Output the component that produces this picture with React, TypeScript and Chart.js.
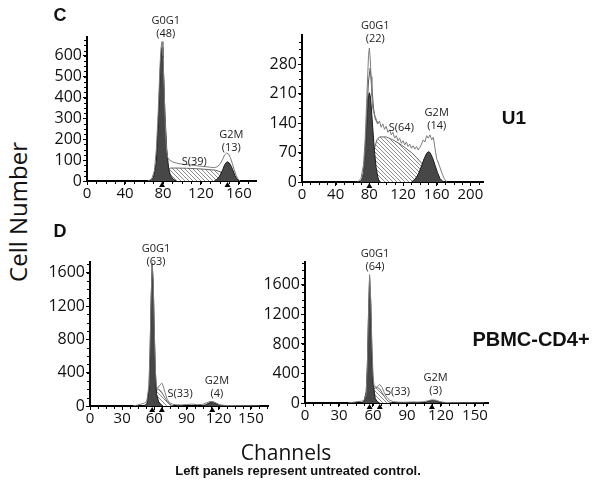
import React, { useEffect, useRef } from 'react';
import { Chart, registerables } from 'chart.js';

Chart.register(...registerables);

// ---------- Panel C, left (U1, untreated) ----------
const cLeftXTicks = [0, 40, 80, 120, 160];
const cLeftYTicks = [0, 100, 200, 300, 400, 500, 600];
const cLeftRawCh = [64, 68, 71, 73, 75, 77, 78, 79, 80, 81, 82, 83, 84, 85, 87, 90, 94, 98, 102, 106, 110, 114, 118, 122, 126, 130, 134, 137, 140, 143, 145, 147, 149, 151, 153, 155, 157, 159, 161];
const cLeftRaw = [0, 8, 50, 150, 330, 560, 640, 668, 600, 470, 330, 210, 140, 112, 100, 92, 86, 82, 80, 78, 76, 74, 72, 70, 68, 66, 64, 68, 80, 105, 125, 134, 130, 112, 85, 55, 28, 10, 0];
const cLeftG0G1Ch = [66, 70, 73, 75, 77, 78, 79, 80, 81, 82, 84, 86, 88, 91, 94];
const cLeftG0G1 = [0, 15, 90, 280, 520, 610, 640, 590, 470, 330, 150, 60, 25, 8, 0];
const cLeftSCh = [76, 80, 84, 88, 95, 105, 115, 125, 135, 140, 145, 150, 155];
const cLeftS = [0, 25, 55, 62, 62, 61, 59, 56, 52, 45, 30, 12, 0];
const cLeftG2MCh = [134, 137, 140, 143, 145, 147, 148, 150, 152, 154, 156, 158, 160];
const cLeftG2M = [0, 8, 25, 55, 78, 90, 92, 86, 70, 48, 25, 8, 0];
const cLeftMarkers = [79, 148];

// ---------- Panel C, right (U1, treated) ----------
const cRightXTicks = [0, 40, 80, 120, 160, 200];
const cRightYTicks = [0, 70, 140, 210, 280];
const cRightRawCh = [66, 70, 73, 75, 77, 79, 80, 81, 82, 83, 84, 86, 88, 90, 92, 94, 96, 98, 100, 102, 104, 106, 108, 110, 112, 114, 116, 118, 120, 122, 124, 126, 128, 130, 132, 134, 136, 138, 140, 142, 144, 146, 148, 150, 152, 154, 156, 158, 160, 163, 166, 169, 172];
const cRightRaw = [0, 8, 40, 100, 200, 300, 318, 295, 250, 205, 175, 160, 150, 138, 145, 130, 138, 125, 132, 118, 124, 112, 118, 104, 110, 98, 104, 92, 98, 88, 95, 84, 90, 80, 86, 78, 84, 76, 82, 90, 100, 95, 110, 104, 112, 100, 106, 80, 55, 40, 22, 8, 0];
const cRightFitCh = [70, 73, 75, 77, 79, 81, 83, 85, 87, 90];
const cRightFit = [0, 20, 70, 160, 240, 270, 225, 175, 150, 138];
const cRightG0G1Ch = [69, 72, 74, 76, 78, 79, 80, 81, 82, 84, 86, 88, 90, 92];
const cRightG0G1 = [0, 10, 40, 100, 175, 205, 212, 205, 185, 130, 75, 35, 12, 0];
const cRightSCh = [80, 83, 86, 89, 92, 100, 108, 115, 122, 130, 136, 142, 148, 154, 160];
const cRightS = [0, 35, 80, 100, 107, 107, 100, 92, 82, 70, 58, 45, 25, 8, 0];
const cRightG2MCh = [130, 134, 138, 142, 145, 148, 150, 152, 155, 158, 161, 164, 168];
const cRightG2M = [0, 6, 18, 38, 55, 68, 72, 70, 58, 40, 22, 8, 0];
const cRightMarkers = [80];

// ---------- Panel D, left (PBMC-CD4+, untreated) ----------
const dLeftXTicks = [0, 30, 60, 90, 120, 150];
const dLeftYTicks = [0, 400, 800, 1200, 1600];
const dLeftRawCh = [40, 44, 48, 51, 53, 55, 56, 57, 58, 59, 60, 61, 62, 63, 65, 67, 68, 70, 72, 74, 77, 80, 85, 90, 95, 100, 105, 109, 112, 115, 118, 121, 125, 130, 140, 150, 158];
const dLeftRaw = [0, 10, 25, 35, 60, 250, 700, 1300, 1720, 1500, 900, 420, 240, 210, 250, 275, 250, 160, 80, 40, 22, 15, 12, 18, 22, 16, 20, 40, 55, 52, 35, 15, 8, 5, 3, 2, 0];
const dLeftG0G1Ch = [50, 53, 55, 56, 57, 58, 59, 60, 61, 62, 64, 66, 68];
const dLeftG0G1 = [0, 25, 200, 600, 1250, 1700, 1450, 850, 380, 150, 50, 15, 0];
const dLeftSCh = [58, 60, 62, 64, 66, 68, 70, 72, 74, 76, 78];
const dLeftS = [0, 100, 190, 200, 180, 140, 95, 55, 25, 8, 0];
const dLeftG2MCh = [104, 108, 111, 113, 115, 117, 120, 124];
const dLeftG2M = [0, 15, 35, 45, 42, 30, 12, 0];
const dLeftMarkers = [58, 67, 114];

// ---------- Panel D, right (PBMC-CD4+, treated) ----------
const dRightXTicks = [0, 30, 60, 90, 120, 150];
const dRightYTicks = [0, 400, 800, 1200, 1600];
const dRightRawCh = [38, 42, 46, 50, 52, 54, 55, 56, 57, 58, 59, 60, 61, 63, 65, 66, 68, 70, 72, 75, 78, 82, 88, 95, 100, 105, 108, 111, 113, 116, 119, 123, 130, 140, 150, 158];
const dRightRaw = [0, 8, 18, 25, 35, 120, 500, 1200, 1740, 1400, 800, 380, 230, 215, 240, 250, 210, 140, 80, 35, 18, 12, 10, 14, 12, 18, 28, 40, 42, 36, 20, 8, 4, 2, 1, 0];
const dRightG0G1Ch = [49, 52, 54, 55, 56, 57, 58, 59, 60, 62, 64, 66];
const dRightG0G1 = [0, 20, 150, 480, 1150, 1700, 1350, 700, 280, 60, 15, 0];
const dRightSCh = [56, 58, 60, 62, 64, 66, 68, 70, 72, 74, 77];
const dRightS = [0, 90, 180, 205, 210, 190, 140, 90, 45, 15, 0];
const dRightG2MCh = [103, 107, 110, 112, 114, 116, 119, 123];
const dRightG2M = [0, 12, 28, 36, 34, 25, 10, 0];
const dRightMarkers = [57, 66, 112];

// ---------- Phase labels (text, channel, count) ----------
const cLeftLabels = [
  { lines: ['G0G1', '(48)'], ch: 83, v: 767 },
  { lines: ['S(39)'], ch: 113, v: 91 },
  { lines: ['G2M', '(13)'], ch: 152, v: 220 },
];
const cRightLabels = [
  { lines: ['G0G1', '(22)'], ch: 87, v: 370 },
  { lines: ['S(64)'], ch: 118, v: 128 },
  { lines: ['G2M', '(14)'], ch: 160, v: 164 },
];
const dLeftLabels = [
  { lines: ['G0G1', '(63)'], ch: 61.5, v: 1886 },
  { lines: ['S(33)'], ch: 84, v: 144 },
  { lines: ['G2M', '(4)'], ch: 118.4, v: 300 },
];
const dRightLabels = [
  { lines: ['G0G1', '(64)'], ch: 61.8, v: 2018 },
  { lines: ['S(33)'], ch: 81.6, v: 149 },
  { lines: ['G2M', '(3)'], ch: 115.2, v: 339 },
];

type Series = { ch: number[]; v: number[] };
type Spec = {
  box: { left: number; top: number; width: number; height: number };
  plot: { left: number; top: number; right: number; bottom: number };
  xMax: number; yMax: number; xTicks: number[]; yTicks: number[];
  raw: Series; fit?: Series; g0g1: Series; s: Series; g2m: Series;
  markers: number[];
  labels: { lines: string[]; ch: number; v: number }[];
};

const specs: Spec[] = [
  {
    box: { left: 40, top: 0, width: 240, height: 205 },
    plot: { left: 87, top: 37, right: 256, bottom: 181 },
    xMax: 178, yMax: 690, xTicks: cLeftXTicks, yTicks: cLeftYTicks,
    raw: { ch: cLeftRawCh, v: cLeftRaw },
    g0g1: { ch: cLeftG0G1Ch, v: cLeftG0G1 },
    s: { ch: cLeftSCh, v: cLeftS },
    g2m: { ch: cLeftG2MCh, v: cLeftG2M },
    markers: cLeftMarkers, labels: cLeftLabels,
  },
  {
    box: { left: 255, top: 0, width: 245, height: 205 },
    plot: { left: 302, top: 35, right: 483, bottom: 182 },
    xMax: 215, yMax: 349, xTicks: cRightXTicks, yTicks: cRightYTicks,
    raw: { ch: cRightRawCh, v: cRightRaw },
    fit: { ch: cRightFitCh, v: cRightFit },
    g0g1: { ch: cRightG0G1Ch, v: cRightG0G1 },
    s: { ch: cRightSCh, v: cRightS },
    g2m: { ch: cRightG2MCh, v: cRightG2M },
    markers: cRightMarkers, labels: cRightLabels,
  },
  {
    box: { left: 40, top: 215, width: 240, height: 215 },
    plot: { left: 90, top: 262, right: 268, bottom: 406 },
    xMax: 166, yMax: 1730, xTicks: dLeftXTicks, yTicks: dLeftYTicks,
    raw: { ch: dLeftRawCh, v: dLeftRaw },
    g0g1: { ch: dLeftG0G1Ch, v: dLeftG0G1 },
    s: { ch: dLeftSCh, v: dLeftS },
    g2m: { ch: dLeftG2MCh, v: dLeftG2M },
    markers: dLeftMarkers, labels: dLeftLabels,
  },
  {
    box: { left: 255, top: 215, width: 245, height: 215 },
    plot: { left: 305, top: 262, right: 488, bottom: 403 },
    xMax: 161.5, yMax: 1910, xTicks: dRightXTicks, yTicks: dRightYTicks,
    raw: { ch: dRightRawCh, v: dRightRaw },
    g0g1: { ch: dRightG0G1Ch, v: dRightG0G1 },
    s: { ch: dRightSCh, v: dRightS },
    g2m: { ch: dRightG2MCh, v: dRightG2M },
    markers: dRightMarkers, labels: dRightLabels,
  },
];

const pts = (s: Series) => s.ch.map((x, i) => ({ x, y: s.v[i] }));

function makeHatch(): CanvasPattern | string {
  const c = document.createElement('canvas');
  c.width = 4; c.height = 4;
  const g = c.getContext('2d');
  if (!g) return '#ccc';
  g.fillStyle = '#ffffff';
  g.fillRect(0, 0, 4, 4);
  g.strokeStyle = '#707070';
  g.lineWidth = 0.8;
  g.beginPath();
  g.moveTo(-1, -1); g.lineTo(5, 5);
  g.moveTo(-1, 3); g.lineTo(1, 5);
  g.moveTo(3, -1); g.lineTo(5, 1);
  g.stroke();
  return g.createPattern(c, 'repeat') || '#ccc';
}

function Panel({ spec }: { spec: Spec }) {
  const ref = useRef<HTMLCanvasElement>(null);
  useEffect(() => {
    if (!ref.current) return;
    const hatch = makeHatch();
    const { box, plot } = spec;
    const yW = plot.left - box.left;
    const xH = box.top + box.height - plot.bottom;
    const datasets: any[] = [
      { data: pts(spec.raw), borderColor: '#7c7c7c', borderWidth: 1, fill: false, pointRadius: 0, tension: 0 },
    ];
    if (spec.fit) {
      datasets.push({ data: pts(spec.fit), borderColor: '#555', borderWidth: 1, fill: false, pointRadius: 0, tension: 0 });
    }
    datasets.push(
      { data: pts(spec.g0g1), backgroundColor: '#474747', borderColor: '#1c1c1c', borderWidth: 1, fill: 'origin', pointRadius: 0, tension: 0 },
      { data: pts(spec.g2m), backgroundColor: '#474747', borderColor: '#1c1c1c', borderWidth: 1, fill: 'origin', pointRadius: 0, tension: 0 },
      { data: pts(spec.s), backgroundColor: hatch, borderColor: '#666', borderWidth: 1, fill: 'origin', pointRadius: 0, tension: 0 },
    );
    const overlay = {
      id: 'overlay',
      afterDatasetsDraw(chart: any) {
        const { ctx, chartArea } = chart;
        const xs = chart.scales.x;
        const ys = chart.scales.y;
        ctx.save();
        ctx.strokeStyle = '#000';
        ctx.lineWidth = 1;
        const xt = spec.xTicks;
        const xMinor = (xt[1] - xt[0]) / 4;
        ctx.beginPath();
        for (let v = xMinor; v < spec.xMax; v += xMinor) {
          const px = Math.round(xs.getPixelForValue(v)) + 0.5;
          ctx.moveTo(px, chartArea.bottom + 1);
          ctx.lineTo(px, chartArea.bottom + 3);
        }
        const yt = spec.yTicks;
        const yMinor = (yt[1] - yt[0]) / 4;
        for (let v = yMinor; v < spec.yMax; v += yMinor) {
          const py = Math.round(ys.getPixelForValue(v)) + 0.5;
          ctx.moveTo(chartArea.left - 1, py);
          ctx.lineTo(chartArea.left - 3, py);
        }
        ctx.stroke();
        ctx.fillStyle = '#000';
        spec.markers.forEach((m) => {
          const px = xs.getPixelForValue(m);
          const t = chartArea.bottom + 1;
          ctx.beginPath();
          ctx.moveTo(px, t);
          ctx.lineTo(px - 3, t + 5);
          ctx.lineTo(px + 3, t + 5);
          ctx.closePath();
          ctx.fill();
        });
        ctx.font = "11px 'Open Sans'";
        ctx.fillStyle = '#222';
        ctx.textAlign = 'center';
        ctx.textBaseline = 'middle';
        spec.labels.forEach((l) => {
          const px = xs.getPixelForValue(l.ch);
          const py = ys.getPixelForValue(l.v);
          l.lines.forEach((t, i) => ctx.fillText(t, px, py + i * 13));
        });
        ctx.restore();
      },
    };
    const chart = new Chart(ref.current, {
      type: 'line',
      data: { datasets },
      options: {
        animation: false,
        responsive: false,
        maintainAspectRatio: false,
        layout: {
          padding: { left: 0, top: plot.top - box.top, right: box.left + box.width - plot.right, bottom: 0 },
        },
        plugins: { legend: { display: false }, tooltip: { enabled: false } },
        scales: {
          x: {
            type: 'linear', min: 0, max: spec.xMax,
            afterBuildTicks: (s: any) => { s.ticks = spec.xTicks.map((value) => ({ value })); },
            ticks: { autoSkip: false, callback: (v: any) => String(v), color: '#111', font: { family: "'Open Sans'", size: 15 }, padding: 0, maxRotation: 0 },
            grid: { drawOnChartArea: false, drawTicks: true, tickLength: 4, color: '#000' },
            border: { display: true, color: '#000', width: 2 },
            afterFit: (s: any) => { s.height = xH; },
          },
          y: {
            type: 'linear', min: 0, max: spec.yMax,
            afterBuildTicks: (s: any) => { s.ticks = spec.yTicks.map((value) => ({ value })); },
            ticks: { autoSkip: false, callback: (v: any) => String(v), color: '#111', font: { family: "'Open Sans'", size: 16 }, padding: 1 },
            grid: { drawOnChartArea: false, drawTicks: true, tickLength: 4, color: '#000' },
            border: { display: true, color: '#000', width: 2 },
            afterFit: (s: any) => { s.width = yW; },
          },
        },
      } as any,
      plugins: [overlay],
    });
    return () => chart.destroy();
  }, [spec]);
  const { box } = spec;
  return (
    <div style={{ position: 'absolute', left: box.left, top: box.top, width: box.width, height: box.height }}>
      <canvas ref={ref} width={box.width} height={box.height} style={{ display: 'block' }} />
    </div>
  );
}

function Txt({ x, y, children, style }: { x: number; y: number; children: React.ReactNode; style?: React.CSSProperties }) {
  return (
    <div style={{ position: 'absolute', left: x, top: y, transform: 'translate(-50%, -50%)', whiteSpace: 'nowrap', lineHeight: 1, color: '#111', ...style }}>
      {children}
    </div>
  );
}

const bold = { fontFamily: "'Liberation Sans', Arial, sans-serif", fontWeight: 700 } as React.CSSProperties;
const light = { fontFamily: "'Open Sans', sans-serif" } as React.CSSProperties;

export default function App() {
  return (
    <div style={{ position: 'absolute', left: 0, top: 0, width: 600, height: 496, background: '#fff', overflow: 'hidden' }}>
      {specs.map((s, i) => <Panel key={i} spec={s} />)}
      <Txt x={60} y={15} style={{ ...bold, fontSize: 18 }}>C</Txt>
      <Txt x={60} y={231} style={{ ...bold, fontSize: 18 }}>D</Txt>
      <Txt x={18} y={212} style={{ ...light, fontSize: 24, transform: 'translate(-50%, -50%) rotate(-90deg)' }}>Cell Number</Txt>
      <Txt x={514} y={117} style={{ ...bold, fontSize: 19 }}>U1</Txt>
      <Txt x={531} y={339} style={{ ...bold, fontSize: 20 }}>PBMC-CD4+</Txt>
      <Txt x={286} y={452} style={{ ...light, fontSize: 21 }}>Channels</Txt>
      <Txt x={298} y={470} style={{ ...bold, fontSize: 13 }}>Left panels represent untreated control.</Txt>
    </div>
  );
}
